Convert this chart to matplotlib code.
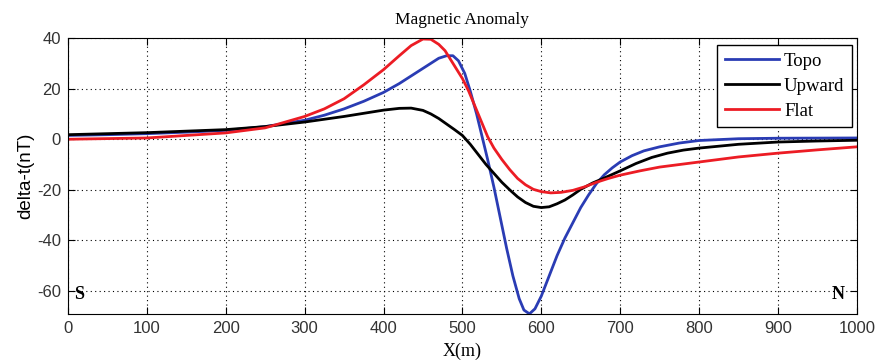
import matplotlib.pyplot as plt

plt.rcParams['axes.unicode_minus'] = False

# values
x_topo = [0, 50, 100, 150, 200, 250, 300, 325, 350, 375, 400, 420, 440, 455,
          470, 480, 488, 495, 503, 510, 518, 525, 532, 540, 548, 556, 564,
          572, 578, 585, 592, 600, 610, 620, 630, 640, 650, 660, 670, 680,
          690, 700, 715, 730, 750, 775, 800, 850, 900, 1000]
topo = [1.5, 1.8, 2.2, 2.8, 3.5, 5, 7.5, 9.5, 12, 15, 18.5, 22, 26, 29,
        32, 33, 33, 31, 26, 19, 10, 1, -8, -19, -31, -43, -54,
        -63, -67.5, -69, -67, -62, -54, -46, -39, -33, -27, -22, -17.5, -14,
        -11.3, -9, -6.5, -4.6, -3, -1.5, -0.5, 0.2, 0.4, 0.5]

x_up = [0, 100, 200, 250, 300, 350, 400, 420, 435, 450, 460, 470, 480, 490,
        500, 510, 520, 530, 540, 550, 560, 570, 580, 590, 600, 610, 620, 630,
        640, 650, 665, 680, 700, 720, 740, 760, 780, 800, 850, 900, 950, 1000]
upward = [1.8, 2.6, 3.8, 5, 6.8, 9, 11.5, 12.2, 12.3, 11.4, 10, 8.2, 6, 3.8,
          1.5, -2, -6, -10, -13.5, -17, -20, -22.8, -25, -26.5, -27, -26.7,
          -25.5, -24, -22, -19.8, -17.3, -15.3, -12.5, -9.6, -7.2, -5.5, -4.3,
          -3.5, -2, -1.1, -0.7, -0.4]

x_flat = [0, 100, 200, 250, 300, 325, 350, 375, 400, 420, 435, 450, 460, 470,
          478, 485, 492, 500, 508, 516, 524, 532, 540, 550, 560, 570, 580, 590,
          600, 612, 625, 640, 655, 670, 685, 700, 725, 750, 800, 850, 900, 950,
          1000]
flat = [0, 0.5, 2.5, 4.5, 9, 12, 16, 21.5, 27.5, 33, 37, 39.6, 39.5, 37.5,
        35, 31.5, 28, 24, 19, 13, 7, 1, -3.5, -8, -12, -15.5, -18, -19.8,
        -20.7, -21.2, -21, -20.2, -18.8, -17, -15.5, -14.2, -12.5, -11, -9, -7,
        -5.5, -4.2, -3]

serif = 'Liberation Serif'
sans = 'Liberation Sans'

fig = plt.figure(figsize=(8.77, 3.62), dpi=100)
ax = fig.add_axes([0.0775, 0.133, 0.8995, 0.762])

ax.plot(x_topo, topo, color='#2a3cb4', lw=2, label='Topo')
ax.plot(x_up, upward, color='black', lw=2, label='Upward')
ax.plot(x_flat, flat, color='#ec1c24', lw=2, label='Flat')

ax.set_xlim(0, 1000)
ax.set_ylim(-69, 40)
ax.set_xticks(range(0, 1001, 100))
ax.set_yticks([-60, -40, -20, 0, 20, 40])
ax.grid(True, color='black', linestyle=(0, (1, 3)), linewidth=0.8)
ax.tick_params(direction='in', top=True, right=True, length=5,
               labelsize=12, pad=5)
for lab in ax.get_xticklabels() + ax.get_yticklabels():
    lab.set_fontfamily(sans)
    lab.set_color('#333333')

ax.set_title('Magnetic Anomaly', fontfamily=serif, fontsize=12.5, pad=10)
ax.set_xlabel('X(m)', fontfamily=serif, fontsize=13, labelpad=5)
ax.set_ylabel('delta-t(nT)', fontfamily=sans, fontsize=13.5, labelpad=2)

ax.text(8, -63, 'S', fontfamily=serif, fontweight='bold', fontsize=13)
ax.text(968, -63, 'N', fontfamily=serif, fontweight='bold', fontsize=13)

leg = ax.legend(loc='upper right', bbox_to_anchor=(0.9937, 0.975),
                prop={'family': serif, 'size': 13.5},
                fancybox=False, edgecolor='black', framealpha=1,
                handlelength=2.9, borderaxespad=0, labelspacing=0.43,
                handletextpad=0.25, borderpad=0.4)
leg.get_frame().set_linewidth(1)

fig.savefig('out.png', dpi=100)
